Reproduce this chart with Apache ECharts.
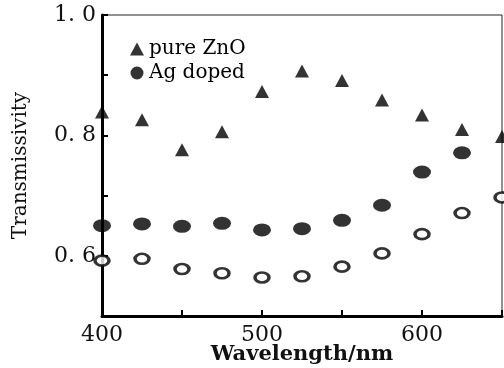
<!DOCTYPE html>
<html>
<head>
<meta charset="utf-8">
<script src="https://cdn.jsdelivr.net/npm/echarts@6/dist/echarts.min.js"></script>
<style>
  html, body { margin: 0; padding: 0; background: #fff; }
  #chart { width: 504px; height: 368px; }
</style>
</head>
<body>
<div id="chart"></div>
<script>
// wavelengths (nm)
const wavelengths = [400, 425, 450, 475, 500, 525, 550, 575, 600, 625, 650];
// transmissivity
const pureZnO = [0.839, 0.826, 0.776, 0.806, 0.873, 0.907, 0.891, 0.859, 0.834, 0.810, 0.798];
const agDoped = [0.650, 0.653, 0.649, 0.654, 0.643, 0.645, 0.659, 0.684, 0.739, 0.771];
const openMarks = [0.592, 0.595, 0.578, 0.571, 0.564, 0.566, 0.582, 0.604, 0.636, 0.671, 0.697];

// tick labels that are printed (others are tick marks only)
const xTickLabels = { 400: '400', 500: '500', 600: '600' };
const yTickLabels = { '0.6': '0. 6', '0.8': '0. 8', '1.0': '1. 0' };

const FONT = '"DejaVu Serif", "Liberation Serif", serif';
const ELLIPSE = 'path://M0,10a10,10 0 1,0 20,0a10,10 0 1,0 -20,0z';

const pairs = (ys) => ys.map((y, i) => [wavelengths[i], y]);

const chart = echarts.init(document.getElementById('chart'));
chart.setOption({
  backgroundColor: '#fff',
  animation: false,
  grid: {
    left: 102, right: 2, top: 15, bottom: 52,
    outerBoundsMode: 'none',
    containLabel: false,
    show: true, borderColor: '#222', borderWidth: 1
  },
  legend: {
    orient: 'vertical',
    left: 125, top: 34,
    itemWidth: 14, itemHeight: 13, itemGap: 4,
    data: [
      { name: 'pure ZnO', icon: 'triangle' },
      { name: 'Ag doped', icon: 'circle' }
    ],
    textStyle: { fontFamily: FONT, fontSize: 20, color: '#000', lineHeight: 15 }
  },
  xAxis: {
    type: 'value',
    min: 400, max: 650, interval: 50,
    name: 'Wavelength/nm',
    nameLocation: 'middle', nameGap: 28,
    nameMoveOverlap: false,
    nameTextStyle: { fontFamily: FONT, fontSize: 21, fontWeight: 'bold', color: '#111' },
    axisLine: { lineStyle: { color: '#000', width: 3 } },
    axisTick: { inside: true, length: 6, lineStyle: { color: '#000', width: 2 } },
    axisLabel: {
      margin: 8, fontFamily: FONT, fontSize: 22, color: '#111',
      formatter: (v) => xTickLabels[v] || ''
    },
    splitLine: { show: false }
  },
  yAxis: {
    type: 'value',
    min: 0.5, max: 1.0, interval: 0.1,
    name: 'Transmissivity',
    nameLocation: 'middle', nameGap: 83,
    nameMoveOverlap: false,
    nameTextStyle: { fontFamily: FONT, fontSize: 20, color: '#111', padding: [0, 0, -12, 0] },
    axisLine: { lineStyle: { color: '#000', width: 3 } },
    axisTick: { inside: true, length: 6, lineStyle: { color: '#000', width: 2 } },
    axisLabel: {
      margin: 6, fontFamily: FONT, fontSize: 22, color: '#111',
      formatter: (v) => yTickLabels[v.toFixed(1)] || ''
    },
    splitLine: { show: false }
  },
  series: [
    {
      name: 'pure ZnO',
      type: 'scatter',
      clip: false,
      symbol: 'triangle',
      symbolSize: [14, 13],
      itemStyle: { color: '#000' },
      data: pairs(pureZnO)
    },
    {
      name: 'Ag doped',
      type: 'scatter',
      clip: false,
      symbol: ELLIPSE,
      symbolSize: [18, 13],
      itemStyle: { color: '#000' },
      data: pairs(agDoped)
    },
    {
      name: 'open',
      type: 'scatter',
      clip: false,
      symbol: ELLIPSE,
      symbolSize: [14, 10],
      itemStyle: { color: '#fff', borderColor: '#000', borderWidth: 3 },
      data: pairs(openMarks)
    }
  ]
});
</script>
</body>
</html>
